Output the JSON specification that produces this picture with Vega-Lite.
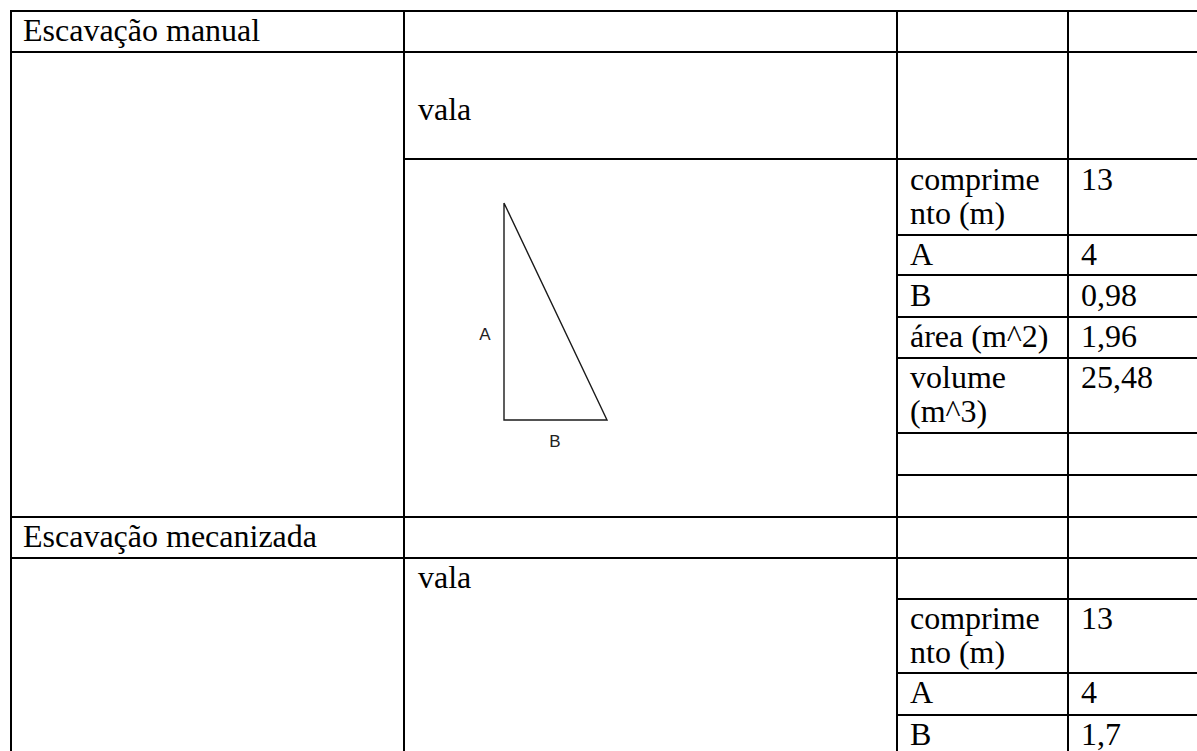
{
  "$schema": "https://vega.github.io/schema/vega-lite/v6.json",
  "width": 1197,
  "height": 751,
  "autosize": {"type": "none"},
  "padding": 0,
  "background": "white",
  "config": {"view": {"stroke": null}},
  "datasets": {
    "rules": [
      {"x1": 11, "x2": 1197, "y1": 11, "y2": 11},
      {"x1": 11, "x2": 1197, "y1": 52, "y2": 52},
      {"x1": 404, "x2": 1197, "y1": 159, "y2": 159},
      {"x1": 897, "x2": 1197, "y1": 235, "y2": 235},
      {"x1": 897, "x2": 1197, "y1": 275, "y2": 275},
      {"x1": 897, "x2": 1197, "y1": 317, "y2": 317},
      {"x1": 897, "x2": 1197, "y1": 358, "y2": 358},
      {"x1": 897, "x2": 1197, "y1": 433, "y2": 433},
      {"x1": 897, "x2": 1197, "y1": 475, "y2": 475},
      {"x1": 11, "x2": 1197, "y1": 517, "y2": 517},
      {"x1": 11, "x2": 1197, "y1": 558, "y2": 558},
      {"x1": 897, "x2": 1197, "y1": 599, "y2": 599},
      {"x1": 897, "x2": 1197, "y1": 673, "y2": 673},
      {"x1": 897, "x2": 1197, "y1": 715, "y2": 715},
      {"x1": 11, "x2": 11, "y1": 10, "y2": 751},
      {"x1": 404, "x2": 404, "y1": 10, "y2": 751},
      {"x1": 897, "x2": 897, "y1": 10, "y2": 751},
      {"x1": 1068, "x2": 1068, "y1": 10, "y2": 751}
    ],
    "texts": [
      {"x": 23, "y": 41, "t": "Escavação manual"},
      {"x": 418, "y": 120, "t": "vala"},
      {"x": 910, "y": 190, "t": "comprime"},
      {"x": 910, "y": 224, "t": "nto (m)"},
      {"x": 1081, "y": 190, "t": "13"},
      {"x": 910, "y": 265, "t": "A"},
      {"x": 1081, "y": 265, "t": "4"},
      {"x": 910, "y": 306, "t": "B"},
      {"x": 1081, "y": 306, "t": "0,98"},
      {"x": 910, "y": 347, "t": "área (m^2)"},
      {"x": 1081, "y": 347, "t": "1,96"},
      {"x": 910, "y": 388, "t": "volume"},
      {"x": 910, "y": 422, "t": "(m^3)"},
      {"x": 1081, "y": 388, "t": "25,48"},
      {"x": 23, "y": 547, "t": "Escavação mecanizada"},
      {"x": 418, "y": 588, "t": "vala"},
      {"x": 910, "y": 629, "t": "comprime"},
      {"x": 910, "y": 663, "t": "nto (m)"},
      {"x": 1081, "y": 629, "t": "13"},
      {"x": 910, "y": 703, "t": "A"},
      {"x": 1081, "y": 703, "t": "4"},
      {"x": 910, "y": 745, "t": "B"},
      {"x": 1081, "y": 745, "t": "1,7"}
    ],
    "tri": [
      {"i": 0, "x": 504, "y": 203},
      {"i": 1, "x": 504, "y": 420},
      {"i": 2, "x": 607, "y": 420},
      {"i": 3, "x": 504, "y": 203}
    ],
    "trilabels": [
      {"x": 485, "y": 335, "t": "A"},
      {"x": 555, "y": 442, "t": "B"}
    ]
  },
  "layer": [
    {
      "data": {"name": "rules"},
      "mark": {"type": "rule", "color": "black", "strokeWidth": 2},
      "encoding": {
        "x": {"field": "x1", "type": "quantitative", "scale": {"domain": [0, 1197], "range": [0, 1197], "nice": false, "zero": false}, "axis": null},
        "x2": {"field": "x2"},
        "y": {"field": "y1", "type": "quantitative", "scale": {"domain": [0, 751], "range": [0, 751], "nice": false, "zero": false}, "axis": null},
        "y2": {"field": "y2"}
      }
    },
    {
      "data": {"name": "tri"},
      "mark": {"type": "line", "color": "#1a1a1a", "strokeWidth": 1.4},
      "encoding": {
        "x": {"field": "x", "type": "quantitative", "axis": null},
        "y": {"field": "y", "type": "quantitative", "axis": null},
        "order": {"field": "i", "type": "quantitative"}
      }
    },
    {
      "data": {"name": "trilabels"},
      "mark": {"type": "text", "font": "Liberation Sans", "fontSize": 17, "color": "#222222", "align": "center", "baseline": "middle"},
      "encoding": {
        "x": {"field": "x", "type": "quantitative", "axis": null},
        "y": {"field": "y", "type": "quantitative", "axis": null},
        "text": {"field": "t", "type": "nominal"}
      }
    },
    {
      "data": {"name": "texts"},
      "mark": {"type": "text", "font": "Times New Roman, Liberation Serif, serif", "fontSize": 32, "color": "black", "align": "left", "baseline": "alphabetic"},
      "encoding": {
        "x": {"field": "x", "type": "quantitative", "axis": null},
        "y": {"field": "y", "type": "quantitative", "axis": null},
        "text": {"field": "t", "type": "nominal"}
      }
    }
  ]
}
